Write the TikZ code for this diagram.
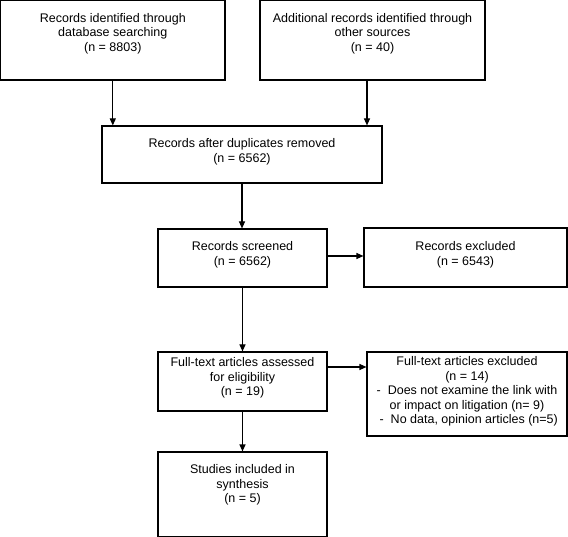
\documentclass[tikz,border=0pt]{standalone}
\usepackage{fontspec}
\setmainfont{Liberation Sans}
\usetikzlibrary{arrows.meta}
\tikzset{
  box/.style={draw, line width=1.1pt, inner sep=0pt},
  boxtext/.style={anchor=north, align=center, inner sep=0pt,
    font=\fontsize{12.5}{14.5}\selectfont},
  flow/.style={-{Triangle[length=7pt,width=6pt]}, line width=1.1pt}
}
\begin{document}
\begin{tikzpicture}[x=1pt,y=-1pt]
  \useasboundingbox (0,0) rectangle (568,537);
  % boxes
  \node[box, minimum width=224.4pt, minimum height=79.4pt] (rec) at (112.8,40.3) {};
  \node[box, minimum width=225pt, minimum height=79.4pt] (add) at (372.5,40.3) {};
  \node[box, minimum width=280pt, minimum height=57pt] (dup) at (242,154.5) {};
  \node[box, minimum width=169pt, minimum height=58pt] (scr) at (242.5,258) {};
  \node[box, minimum width=203pt, minimum height=59pt] (exc) at (465.5,257.5) {};
  \node[box, minimum width=169pt, minimum height=59pt] (full) at (242.5,381.5) {};
  \node[box, minimum width=200pt, minimum height=84pt] (fullexc) at (467,394) {};
  \node[box, minimum width=169pt, minimum height=84.4pt] (inc) at (242.5,494.2) {};
  % texts
  \node[boxtext] (recT) at ([yshift=-13pt]rec.north) {Records identified through\\database searching\\(n = 8803)};
  \node[boxtext] (addT) at ([yshift=-13pt]add.north) {Additional records identified through\\other sources\\(n = 40)};
  \node[boxtext] (dupT) at ([yshift=-13pt]dup.north) {Records after duplicates removed\\(n = 6562)};
  \node[boxtext] (scrT) at ([yshift=-13pt]scr.north) {Records screened\\(n = 6562)};
  \node[boxtext] (excT) at ([yshift=-14pt]exc.north) {Records excluded\\(n = 6543)};
  \node[boxtext] (fullT) at ([yshift=-6pt]full.north) {Full-text articles assessed\\for eligibility\\(n = 19)};
  \node[boxtext] (fullexcT) at ([yshift=-5pt]fullexc.north) {Full-text articles excluded\\(n = 14)\\-\ \ Does not examine the link with\\or impact on litigation (n= 9)\\\ -\ \ No data, opinion articles (n=5)};
  \node[boxtext] (incT) at ([yshift=-13pt]inc.north) {Studies included in\\synthesis\\(n = 5)};
  % arrows
  \draw[flow] (rec.south) -- (rec.south |- dup.north);
  \draw[flow] ([xshift=-5.5pt]add.south) -- ([xshift=-5.5pt]add.south |- dup.north);
  \draw[flow] (dup.south) -- (dup.south |- scr.north);
  \draw[flow] ([yshift=2pt]scr.east) -- ([yshift=2pt]scr.east -| exc.west);
  \draw[flow] (scr.south) -- (full.north);
  \draw[flow] ([yshift=14.5pt]full.east) -- ([yshift=14.5pt]full.east -| fullexc.west);
  \draw[flow] (full.south) -- (inc.north);
\end{tikzpicture}
\end{document}
